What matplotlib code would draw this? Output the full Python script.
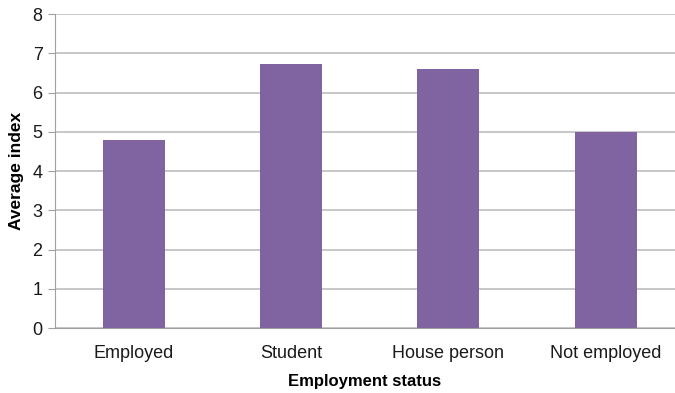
import matplotlib
matplotlib.use('Agg')
from matplotlib import pyplot as plt

categories = ['Employed', 'Student', 'House person', 'Not employed']
values = [4.8, 6.72, 6.6, 5.0]
yticks = [0, 1, 2, 3, 4, 5, 6, 7, 8]

plt.rcParams['font.family'] = ['Liberation Sans', 'DejaVu Sans']

fig = plt.figure(figsize=(6.75, 3.93), dpi=100)
ax = fig.add_axes([0.0815, 0.165, 0.9185, 0.799])

x = range(len(categories))
ax.bar(x, values, width=0.395, color='#8064A2', zorder=3)

ax.set_ylim(0, 8)
ax.set_xlim(-0.5, 3.44)
ax.set_yticks(yticks)
ax.set_yticklabels([str(t) for t in yticks], fontsize=13, color='#1a1a1a')
ax.set_xticks(list(x))
ax.set_xticklabels(categories, fontsize=13, color='#1a1a1a')
ax.tick_params(axis='x', length=0, pad=12)
ax.tick_params(axis='y', length=5, color='#a0a0a0', pad=4)

ax.grid(axis='y', color='#b8b8b8', linewidth=1.1, zorder=0)
for s in ['top', 'right']:
	ax.spines[s].set_visible(False)
ax.spines['left'].set_color('#a0a0a0')
ax.spines['bottom'].set_color('#a0a0a0')

ax.set_ylabel('Average index', fontsize=12.5, fontweight='bold', labelpad=6)
ax.set_xlabel('Employment status', fontsize=12, fontweight='bold', labelpad=9)

fig.savefig('out.png', dpi=100)
